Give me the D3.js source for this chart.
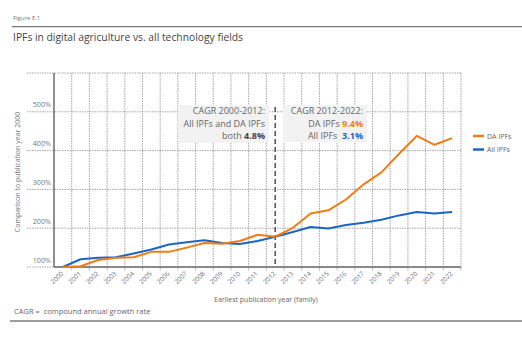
<!DOCTYPE html>
<html>
<head>
<meta charset="utf-8">
<script src="https://cdn.jsdelivr.net/npm/d3@7"></script>
<style>
  body { margin: 0; background: #fff; }
  svg { font-family: "Open Sans", sans-serif; display: block; }
</style>
</head>
<body>
<svg id="chart" width="522" height="340"></svg>
<script>
// data (index, year 2000 = 100%)
var years = ["2000","2001","2002","2003","2004","2005","2006","2007","2008","2009","2010","2011",
             "2012","2013","2014","2015","2016","2017","2018","2019","2020","2021","2022"];
var daIPFs  = [100,102,118,124,125,139,139,150,162,160,167,183,178,201,238,246,274,313,344,392,438,415,432];
var allIPFs = [100,120,124,125,135,145,158,164,169,162,159,167,178,190,203,199,208,214,222,233,242,238,242];
var yTicks = [100,200,300,400,500,600];
var seriesNames = ["DA IPFs","All IPFs"];
var seriesColors = ["#ef7d14","#1a66c6"];

var svg = d3.select("#chart");
var plotL = 54, plotR = 461, plotT = 73, plotB = 267;

var x = d3.scaleBand().domain(years).range([plotL, plotR]).padding(0);
var y = d3.scaleLinear().domain([100, 600]).range([plotB, plotT]);

// header
svg.append("text").attr("x", 13).attr("y", 20)
  .style("font-size", "6px").style("fill", "#777").text("Figure E.1");
svg.append("line").attr("x1", 12).attr("x2", 522).attr("y1", 26.7).attr("y2", 26.7)
  .attr("stroke", "#7a7a7a").attr("stroke-width", 1.3);
svg.append("text").attr("x", 13).attr("y", 41)
  .style("font-size", "10.3px").style("fill", "#444")
  .text("IPFs in digital agriculture vs. all technology fields");

// grid
var grid = svg.append("g");
grid.selectAll(".hgrid").data(yTicks).enter().append("line")
  .attr("x1", 27).attr("x2", plotR)
  .attr("y1", function(d){ return y(d); }).attr("y2", function(d){ return y(d); })
  .attr("stroke", "#8f8f8f").attr("stroke-width", 0.8).style("stroke-dasharray", "1.5,1");
grid.selectAll(".vgrid").data(years).enter().append("line")
  .attr("x1", function(d){ return x(d) + x.bandwidth(); })
  .attr("x2", function(d){ return x(d) + x.bandwidth(); })
  .attr("y1", plotT).attr("y2", plotB + 4)
  .attr("stroke", "#8f8f8f").attr("stroke-width", 0.8).style("stroke-dasharray", "1.5,1");

// y tick labels sit above gridlines
svg.append("g").selectAll("text").data(yTicks.filter(function(d){ return d < 600; })).enter().append("text")
  .attr("x", 51).attr("y", function(d){ return y(d) - 4.5; })
  .attr("text-anchor", "end")
  .style("font-size", "7.2px").style("fill", "#777")
  .text(function(d){ return d + "%"; });

// axes lines
svg.append("line").attr("x1", plotL).attr("x2", plotL).attr("y1", plotT).attr("y2", plotB)
  .attr("stroke", "#6b6b6b").attr("stroke-width", 1.5);
svg.append("line").attr("x1", plotL).attr("x2", plotR).attr("y1", plotB).attr("y2", plotB)
  .attr("stroke", "#6b6b6b").attr("stroke-width", 1.5);

// x tick labels
var xAxis = svg.append("g").attr("transform", "translate(0," + plotB + ")")
  .call(d3.axisBottom(x).tickSize(0).tickPadding(0));
xAxis.select(".domain").remove();
xAxis.selectAll("text")
  .attr("y", 0).attr("dy", 0)
  .attr("text-anchor", "end")
  .attr("transform", "translate(1,7) rotate(-45)")
  .style("font-family", "Open Sans, sans-serif")
  .style("font-size", "6.5px").style("fill", "#6a7080");

// axis titles
svg.append("text").attr("x", 266).attr("y", 302).attr("text-anchor", "middle")
  .style("font-size", "7px").style("fill", "#666").text("Earliest publication year (family)");
svg.append("text").attr("text-anchor", "middle")
  .attr("transform", "translate(19.5,172) rotate(-90)")
  .style("font-size", "7px").style("fill", "#777").text("Comparison to publication year 2000");

// annotation boxes
svg.append("rect").attr("x", 178).attr("y", 105).attr("width", 91).attr("height", 38).attr("fill", "#f2f2f2");
svg.append("rect").attr("x", 283).attr("y", 105).attr("width", 84).attr("height", 37).attr("fill", "#f2f2f2");

// dashed 2012 divider
svg.append("line")
  .attr("x1", x("2012") + x.bandwidth() / 2).attr("x2", x("2012") + x.bandwidth() / 2)
  .attr("y1", 107).attr("y2", plotB)
  .attr("stroke", "#505050").attr("stroke-width", 1.5).style("stroke-dasharray", "5,3");

var t1 = svg.append("text").attr("text-anchor", "end").style("font-size", "9px").style("fill", "#666");
t1.append("tspan").attr("x", 265).attr("y", 114).text("CAGR 2000-2012:");
t1.append("tspan").attr("x", 265).attr("y", 126.5).text("All IPFs and DA IPFs");
var l3 = t1.append("tspan").attr("x", 265).attr("y", 139);
l3.append("tspan").text("both ");
l3.append("tspan").style("font-weight", "bold").style("fill", "#444").text("4.8%");

var t2 = svg.append("text").attr("text-anchor", "end").style("font-size", "9px").style("fill", "#666");
t2.append("tspan").attr("x", 363).attr("y", 114).text("CAGR 2012-2022:");
var m2 = t2.append("tspan").attr("x", 363).attr("y", 126.5);
m2.append("tspan").text("DA IPFs ");
m2.append("tspan").style("font-weight", "bold").style("fill", seriesColors[0]).text("9.4%");
var m3 = t2.append("tspan").attr("x", 363).attr("y", 139);
m3.append("tspan").text("All IPFs \u00a0");
m3.append("tspan").style("font-weight", "bold").style("fill", seriesColors[1]).text("3.1%");

// lines
var line = d3.line()
  .x(function(d, i){ return x(years[i]) + x.bandwidth() / 2; })
  .y(function(d){ return y(d); });
[allIPFs, daIPFs].forEach(function(s, k){
  svg.append("path").datum(s)
    .attr("d", line).attr("fill", "none")
    .attr("stroke", seriesColors[1 - k]).attr("stroke-width", 2)
    .attr("stroke-linejoin", "round");
});

// legend
var leg = svg.append("g").selectAll("g").data(seriesNames).enter().append("g")
  .attr("transform", function(d, i){ return "translate(473," + (136 + i * 13.5) + ")"; });
leg.append("line").attr("x1", 0).attr("x2", 11).attr("y1", 0).attr("y2", 0)
  .attr("stroke", function(d, i){ return seriesColors[i]; }).attr("stroke-width", 2.5);
leg.append("text").attr("x", 14).attr("y", 2.5)
  .style("font-size", "7px").style("fill", "#666").text(function(d){ return d; });

// footnote
svg.append("text").attr("x", 14).attr("y", 314)
  .style("font-size", "7.5px").style("fill", "#666").text("CAGR =\u00a0 compound annual growth rate");
svg.append("line").attr("x1", 10).attr("x2", 522).attr("y1", 321).attr("y2", 321)
  .attr("stroke", "#7a7a7a").attr("stroke-width", 1.3);
</script>
</body>
</html>
